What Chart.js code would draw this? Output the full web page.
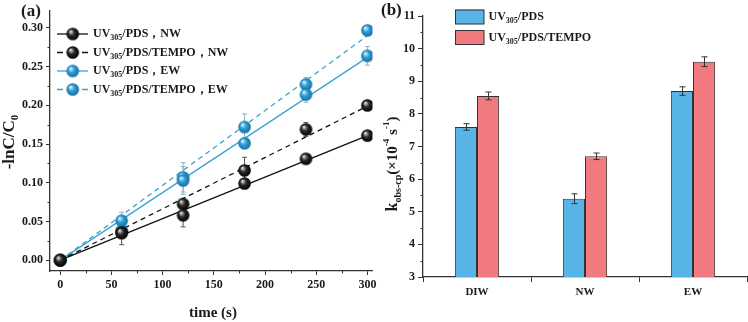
<!DOCTYPE html>
<html><head><meta charset="utf-8">
<script src="https://cdn.jsdelivr.net/npm/chart.js@4"></script>
<style>
html,body{margin:0;padding:0;background:#fff;width:748px;height:322px;overflow:hidden}
#wa{position:absolute;left:0;top:0;width:380px;height:322px}
#wb{position:absolute;left:380px;top:0;width:368px;height:322px}
</style></head>
<body>
<div id="wa"><canvas id="ca" width="380" height="322"></canvas></div>
<div id="wb"><canvas id="cb" width="368" height="322"></canvas></div>
<script>
// ---- Panel (a) data ----
const timeS = [0, 60, 120, 180, 240, 300];
const nwPds = [0, 0.035, 0.058, 0.099, 0.131, 0.161];
const nwPdsErr = [0, 0.015, 0.015, 0.003, 0.005, 0.003];
const nwTempo = [0, 0.036, 0.0725, 0.116, 0.169, 0.200];
const nwTempoErr = [0, 0.004, 0.005, 0.017, 0.009, 0.003];
const ewPds = [0, 0.038, 0.103, 0.151, 0.214, 0.264];
const ewPdsErr = [0, 0.010, 0.018, 0.005, 0.010, 0.012];
const ewTempo = [0, 0.051, 0.107, 0.172, 0.227, 0.297];
const ewTempoErr = [0, 0.011, 0.019, 0.017, 0.009, 0.003];
const fitTime = [0, 300];
const nwPdsFit = [0, 0.161];
const nwTempoFit = [0, 0.199];
const ewPdsFit = [0, 0.262];
const ewTempoFit = [0, 0.290];
const xTicksA = [0, 50, 100, 150, 200, 250, 300];
const yTicksA = [0, 0.05, 0.10, 0.15, 0.20, 0.25, 0.30];
const seriesLabelsA = ['NW', 'NW', 'EW', 'EW'];

// ---- Panel (b) data ----
const waters = ['DIW', 'NW', 'EW'];
const kPds = [7.6, 5.4, 8.7];
const kPdsErr = [0.10, 0.15, 0.13];
const kTempo = [8.55, 6.7, 9.6];
const kTempoErr = [0.12, 0.10, 0.15];
const yTicksB = [3, 4, 5, 6, 7, 8, 9, 10, 11];

const FF = "'Liberation Serif','Times New Roman',serif";
const TXT = '#1a1a1a';
const AX = '#333';
const BLACK_LINE = '#111';
const BLUE_LINE = '#3aa3d2';

function rich(ctx, parts, x, y, align, rot) {
  ctx.save();
  ctx.translate(x, y);
  if (rot) ctx.rotate(rot);
  let total = 0;
  parts.forEach(p => { ctx.font = 'bold ' + p.s + 'px ' + FF; p.w = ctx.measureText(p.t).width; total += p.w; });
  let cx = align === 'center' ? -total / 2 : 0;
  ctx.textBaseline = 'middle'; ctx.textAlign = 'left'; ctx.fillStyle = TXT;
  parts.forEach(p => { ctx.font = 'bold ' + p.s + 'px ' + FF; ctx.fillText(p.t, cx, p.dy || 0); cx += p.w; });
  ctx.restore();
}

function ball(c1, c2, c3, r) {
  const s = Math.ceil(r * 2) + 2;
  const cv = document.createElement('canvas'); cv.width = s; cv.height = s;
  const g = cv.getContext('2d'); const c = s / 2;
  const gr = g.createRadialGradient(c - r * 0.35, c - r * 0.4, r * 0.05, c, c, r);
  gr.addColorStop(0, c1); gr.addColorStop(0.45, c2); gr.addColorStop(1, c3);
  g.fillStyle = gr; g.beginPath(); g.arc(c, c, r - 0.2, 0, Math.PI * 2); g.fill();
  return cv;
}
const blackBall = ball('#e8e8e8', '#2a2a2a', '#000', 6.5);
const blueBall = ball('#e4f5fd', '#2a9fd8', '#176c9e', 6.5);

const pts = (xs, ys) => xs.map((x, i) => ({ x: x, y: ys[i] }));

const pointSets = [
  { y: nwPds, e: nwPdsErr, img: blackBall, ec: '#555' },
  { y: nwTempo, e: nwTempoErr, img: blackBall, ec: '#555' },
  { y: ewPds, e: ewPdsErr, img: blueBall, ec: '#8fb2c4' },
  { y: ewTempo, e: ewTempoErr, img: blueBall, ec: '#8fb2c4' }
];
const fitSets = [
  { y: nwPdsFit, c: BLACK_LINE, d: [] },
  { y: nwTempoFit, c: BLACK_LINE, d: [5, 4] },
  { y: ewPdsFit, c: BLUE_LINE, d: [] },
  { y: ewTempoFit, c: BLUE_LINE, d: [5, 4] }
];

const dsA = [];
fitSets.forEach(f => dsA.push({
  type: 'line', data: pts(fitTime, f.y), borderColor: f.c, borderWidth: 1.3,
  borderDash: f.d, pointRadius: 0, fill: false, order: 2, showLine: true
}));
pointSets.forEach(p => dsA.push({
  type: 'scatter', data: pts(timeS, p.y), pointStyle: p.img, pointRadius: 6.5,
  showLine: false, order: 0
}));

const errA = {
  id: 'errA',
  beforeDatasetsDraw(chart) {
    const ctx = chart.ctx, xs = chart.scales.x, ys = chart.scales.y;
    ctx.save();
    pointSets.forEach(p => {
      ctx.strokeStyle = p.ec; ctx.lineWidth = 1;
      timeS.forEach((t, i) => {
        if (!p.e[i]) return;
        const px = xs.getPixelForValue(t);
        const y1 = ys.getPixelForValue(p.y[i] + p.e[i]);
        const y2 = ys.getPixelForValue(p.y[i] - p.e[i]);
        ctx.beginPath();
        ctx.moveTo(px, y1); ctx.lineTo(px, y2);
        ctx.moveTo(px - 2.5, y1); ctx.lineTo(px + 2.5, y1);
        ctx.moveTo(px - 2.5, y2); ctx.lineTo(px + 2.5, y2);
        ctx.stroke();
      });
    });
    ctx.restore();
  },
  afterDraw(chart) {
    const ctx = chart.ctx, xs = chart.scales.x, ys = chart.scales.y, ca = chart.chartArea;
    ctx.save();
    // minor ticks
    ctx.strokeStyle = AX; ctx.lineWidth = 1;
    for (let v = 25; v < 300; v += 50) {
      const px = Math.round(xs.getPixelForValue(v)) + 0.5;
      ctx.beginPath(); ctx.moveTo(px, ca.bottom); ctx.lineTo(px, ca.bottom + 2.5); ctx.stroke();
    }
    for (let v = 0.025; v < 0.3; v += 0.05) {
      const py = Math.round(ys.getPixelForValue(v)) + 0.5;
      ctx.beginPath(); ctx.moveTo(ca.left, py); ctx.lineTo(ca.left - 2.5, py); ctx.stroke();
    }
    // legend
    const rows = [34, 52.5, 71, 89.5];
    const x0 = 57, x1 = 88, xb = 72.7;
    fitSets.forEach((f, i) => {
      const y = rows[i];
      ctx.strokeStyle = f.c; ctx.lineWidth = 1.3;
      ctx.beginPath();
      if (f.d.length) { ctx.moveTo(x0, y); ctx.lineTo(x0 + 6, y); ctx.moveTo(x1 - 6, y); ctx.lineTo(x1, y); }
      else { ctx.moveTo(x0, y); ctx.lineTo(x1, y); }
      ctx.stroke();
      ctx.drawImage(pointSets[i].img, xb - pointSets[i].img.width / 2, y - pointSets[i].img.height / 2);
      const mid = (i % 2 === 0) ? '/PDS' : '/PDS/TEMPO';
      rich(ctx, [{ t: 'UV', s: 12 }, { t: '305', s: 8, dy: 4 }, { t: mid + '，' + seriesLabelsA[i], s: 12 }], 93, y, 'left');
    });
    // titles
    rich(ctx, [{ t: '(a)', s: 17 }], 21, 12, 'left');
    rich(ctx, [{ t: 'time (s)', s: 15 }], 213, 313, 'center');
    rich(ctx, [{ t: '-lnC/C', s: 17 }, { t: '0', s: 11, dy: 5 }], 10, 142, 'center', -Math.PI / 2);
    ctx.restore();
  }
};

new Chart(document.getElementById('ca'), {
  type: 'scatter',
  data: { datasets: dsA },
  options: {
    responsive: false, animation: false, devicePixelRatio: 1,
    layout: { padding: { left: 0, top: 10, right: 4, bottom: 0 } },
    plugins: { legend: { display: false }, tooltip: { enabled: false } },
    scales: {
      x: {
        type: 'linear', min: -10, max: 305,
        afterFit: s => { s.height = 51; },
        afterBuildTicks: s => { s.ticks = xTicksA.map(v => ({ value: v })); },
        border: { display: true, color: AX, width: 1.3 },
        grid: { drawOnChartArea: false, drawTicks: true, tickLength: 4, color: AX },
        ticks: { font: { family: FF, size: 12, weight: 'bold' }, color: TXT, padding: 3, maxRotation: 0, callback: v => String(v) }
      },
      y: {
        type: 'linear', min: -0.014, max: 0.323,
        afterFit: s => { s.width = 50; },
        afterBuildTicks: s => { s.ticks = yTicksA.map(v => ({ value: v })); },
        border: { display: true, color: AX, width: 1.3 },
        grid: { drawOnChartArea: false, drawTicks: true, tickLength: 4, color: AX },
        ticks: { font: { family: FF, size: 12, weight: 'bold' }, color: TXT, padding: 3, callback: v => Number(v).toFixed(2) }
      }
    }
  },
  plugins: [errA]
});

// ---- Panel (b) ----
const BLUE_BAR = '#58b4e6';
const RED_BAR = '#f07a7d';
const errB = {
  id: 'errB',
  afterDatasetsDraw(chart) {
    const ctx = chart.ctx, ys = chart.scales.y;
    ctx.save(); ctx.strokeStyle = '#333'; ctx.lineWidth = 1;
    [[kPds, kPdsErr], [kTempo, kTempoErr]].forEach((pair, di) => {
      const meta = chart.getDatasetMeta(di);
      meta.data.forEach((bar, i) => {
        const px = Math.round(bar.x) + 0.5;
        const y1 = ys.getPixelForValue(pair[0][i] + pair[1][i]);
        const y2 = ys.getPixelForValue(pair[0][i] - pair[1][i]);
        ctx.beginPath();
        ctx.moveTo(px, y1); ctx.lineTo(px, y2);
        ctx.moveTo(px - 3, y1); ctx.lineTo(px + 3, y1);
        ctx.moveTo(px - 3, y2); ctx.lineTo(px + 3, y2);
        ctx.stroke();
      });
    });
    ctx.restore();
  },
  afterDraw(chart) {
    const ctx = chart.ctx, ys = chart.scales.y, ca = chart.chartArea;
    ctx.save();
    ctx.strokeStyle = AX; ctx.lineWidth = 1;
    for (let v = 3.5; v < 11; v += 1) {
      const py = Math.round(ys.getPixelForValue(v)) + 0.5;
      ctx.beginPath(); ctx.moveTo(ca.left, py); ctx.lineTo(ca.left - 2.5, py); ctx.stroke();
    }
    // legend
    const items = [[BLUE_BAR, '/PDS', 9.5], [RED_BAR, '/PDS/TEMPO', 30]];
    items.forEach(it => {
      ctx.fillStyle = it[0]; ctx.fillRect(75, it[2], 29, 14.5);
      ctx.strokeStyle = '#333'; ctx.lineWidth = 1; ctx.strokeRect(75.5, it[2] + 0.5, 28.5, 14);
      rich(ctx, [{ t: 'UV', s: 12 }, { t: '305', s: 8, dy: 4 }, { t: it[1], s: 12 }], 108.5, it[2] + 7.5, 'left');
    });
    rich(ctx, [{ t: '(b)', s: 17 }], 1, 11, 'left');
    rich(ctx, [{ t: 'k', s: 16 }, { t: 'obs-cp', s: 10, dy: 5 }, { t: '(×10', s: 15 }, { t: '-4', s: 9, dy: -6 },
               { t: ' s', s: 15 }, { t: '-1', s: 9, dy: -6 }, { t: ')', s: 15 }], 13, 164, 'center', -Math.PI / 2);
    ctx.restore();
  }
};

new Chart(document.getElementById('cb'), {
  type: 'bar',
  data: {
    labels: waters,
    datasets: [
      { data: kPds, backgroundColor: BLUE_BAR, borderColor: '#333', borderWidth: 1, borderSkipped: false, categoryPercentage: 0.41, barPercentage: 1 },
      { data: kTempo, backgroundColor: RED_BAR, borderColor: '#333', borderWidth: 1, borderSkipped: false, categoryPercentage: 0.41, barPercentage: 1 }
    ]
  },
  options: {
    responsive: false, animation: false, devicePixelRatio: 1,
    layout: { padding: { left: 0, top: 16, right: 1, bottom: 0 } },
    plugins: { legend: { display: false }, tooltip: { enabled: false } },
    scales: {
      x: {
        afterFit: s => { s.height = 45; },
        border: { display: true, color: AX, width: 1.3 },
        grid: { offset: true, drawOnChartArea: false, drawTicks: true, tickLength: 5, color: AX },
        ticks: { font: { family: FF, size: 11, weight: 'bold' }, color: TXT, padding: 4, maxRotation: 0 }
      },
      y: {
        min: 3, max: 11,
        afterFit: s => { s.width = 43; },
        afterBuildTicks: s => { s.ticks = yTicksB.map(v => ({ value: v })); },
        border: { display: true, color: AX, width: 1.3 },
        grid: { drawOnChartArea: false, drawTicks: true, tickLength: 5, color: AX },
        ticks: { font: { family: FF, size: 12, weight: 'bold' }, color: TXT, padding: 3, callback: v => String(v) }
      }
    }
  },
  plugins: [errB]
});
</script>
</body></html>
